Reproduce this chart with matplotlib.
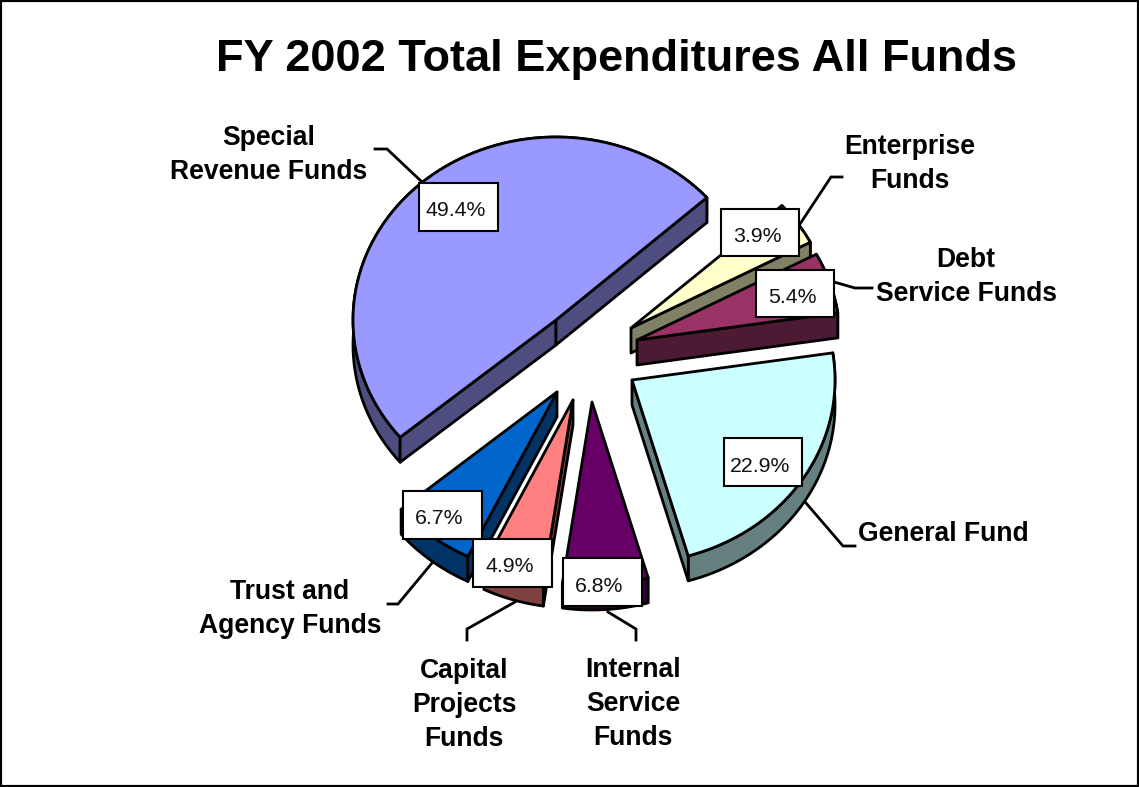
import numpy as np
import matplotlib
matplotlib.use("Agg")
import matplotlib.pyplot as plt
from matplotlib.colors import to_rgb
from matplotlib.patches import Polygon, Rectangle

# ---- data ----
title = "FY 2002 Total Expenditures All Funds"
funds = ["Enterprise\nFunds", "Debt\nService Funds", "General Fund",
         "Internal\nService\nFunds", "Capital\nProjects\nFunds",
         "Trust and\nAgency Funds", "Special\nRevenue Funds"]
shares = [3.9, 5.4, 22.9, 6.8, 4.9, 6.7, 49.4]
colors = ["#FFFFCC", "#993366", "#CCFFFF", "#660066", "#FF8080", "#0066CC", "#9999FF"]

# ---- layout (pixels of the 1139x787 canvas) ----
W, H = 1139, 787
RX, RY, DEPTH = 203, 183, 25
START_ANGLE = 42.0
apexes = [(631, 328), (637, 340), (632, 380), (592, 402), (573, 400), (557, 392), (556, 320)]
draw_order = [6, 0, 1, 2, 5, 4, 3]
boxes = [(721, 209, 799, 256), (756, 270, 834, 317), (724, 438, 802, 486),
         (563, 558, 642, 606), (473, 539, 552, 587), (403, 491, 482, 539),
         (419, 183, 498, 231)]
name_pos = [(910, 164), (966, 277), (943, 534), (633, 704), (464, 705), (290, 609), (269, 155)]
leaders = [[(798, 227), (831, 177), (842, 177)],
           [(834, 282), (855, 288), (872, 288)],
           [(806, 503), (843, 546), (855, 546)],
           [(608, 612), (636, 629), (636, 640)],
           [(515, 602), (467, 629), (467, 640)],
           [(432, 563), (398, 604), (388, 604)],
           [(422, 182), (387, 149), (375, 149)]]

LW = 2.0
plt.rcParams["font.family"] = ["Liberation Sans", "DejaVu Sans"]
fig = plt.figure(figsize=(W / 100, H / 100), dpi=100, facecolor="white")
ax = fig.add_axes([0, 0, 1, 1])
ax.set_xlim(0, W)
ax.set_ylim(H, 0)
ax.set_xticks([])
ax.set_yticks([])
for s in ax.spines.values():
    s.set_linewidth(3)
    s.set_color("black")


def rim(apex, a0, a1):
    t = np.radians(np.linspace(a0, a1, 80))
    return np.column_stack([apex[0] + RX * np.cos(t), apex[1] - RY * np.sin(t)])


def shade(c):
    return tuple(v * 0.5 for v in to_rgb(c))


edges = START_ANGLE - 3.6 * np.concatenate([[0], np.cumsum(shares)])


def poly(pts, fc):
    ax.add_patch(Polygon(pts, closed=True, fc=fc, ec="black", lw=LW, joinstyle="round"))


down = np.array([0, DEPTH])
for i in draw_order:
    apex = np.array(apexes[i], float)
    arc = rim(apex, edges[i], edges[i + 1])
    side = shade(colors[i])
    # outer rim band
    poly(np.vstack([arc, (arc + down)[::-1]]), side)
    # cut faces that look towards the viewer
    if np.cos(np.radians(edges[i])) < 0:
        poly([apex, arc[0], arc[0] + down, apex + down], side)
    if np.cos(np.radians(edges[i + 1])) > 0:
        poly([apex, arc[-1], arc[-1] + down, apex + down], side)
    # top face
    poly(np.vstack([apex, arc]), colors[i])

for pts in leaders:
    xs, ys = zip(*pts)
    ax.plot(xs, ys, color="black", lw=LW, solid_joinstyle="miter", zorder=3)

for share, (x0, y0, x1, y1) in zip(shares, boxes):
    ax.add_patch(Rectangle((x0, y0), x1 - x0, y1 - y0, fc="white", ec="black", lw=1.5, zorder=4))
    ax.text((x0 + x1) / 2 - 3, (y0 + y1) / 2 + 4, f"{share:.1f}%", ha="center", va="center",
            fontsize=15.3, color="#111111", zorder=5)

for name, (x, y) in zip(funds, name_pos):
    ax.text(x, y, name, ha="center", va="center", multialignment="center",
            fontsize=19.1, fontweight="bold", linespacing=1.39, zorder=5)

ax.text(616.5, 60, title, ha="center", va="center", fontsize=32.5, fontweight="bold")

fig.savefig("out.png", dpi=100)
